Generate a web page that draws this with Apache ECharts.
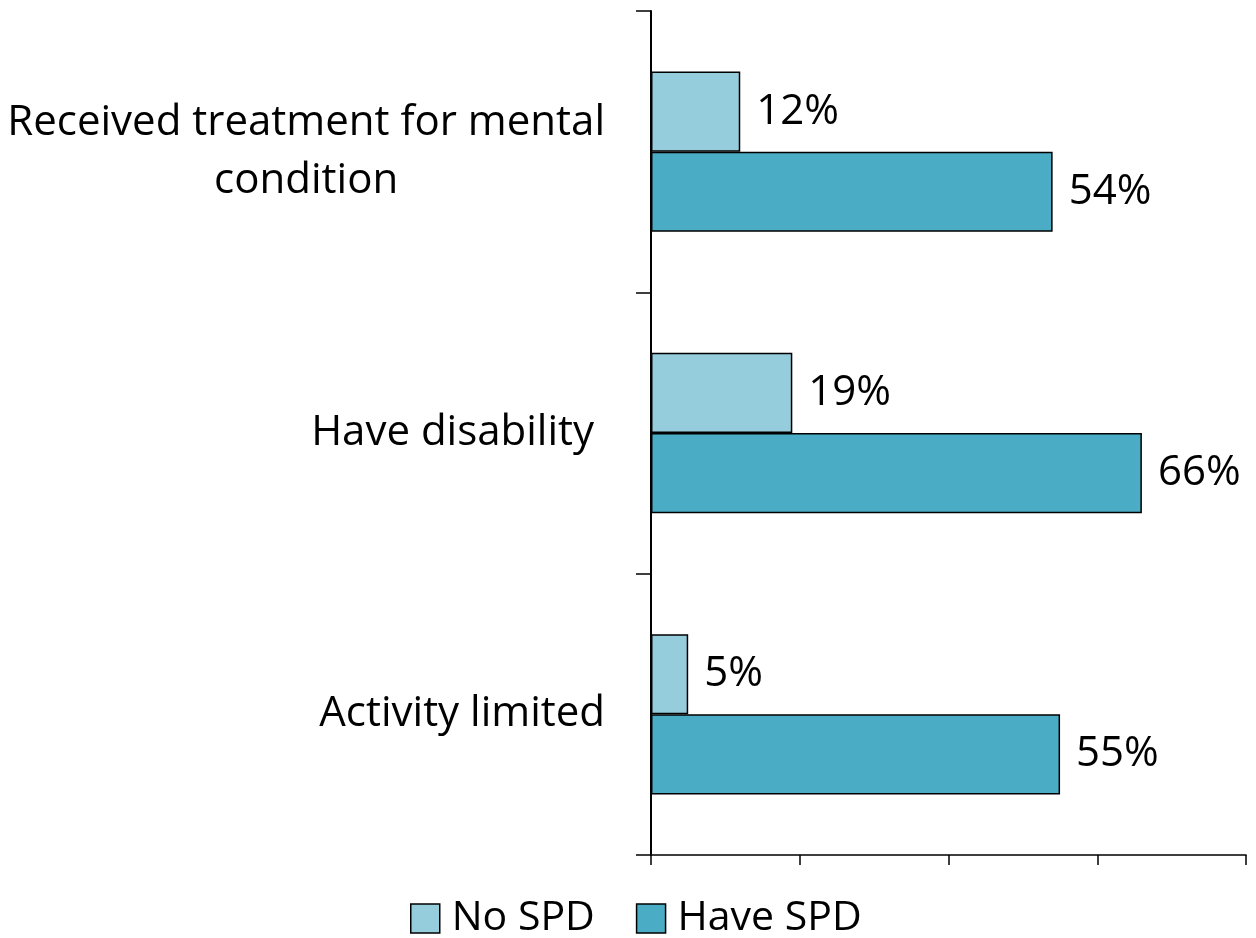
<!DOCTYPE html>
<html>
<head>
<meta charset="utf-8">
<script src="https://cdn.jsdelivr.net/npm/echarts@6/dist/echarts.min.js"></script>
<style>
  html, body { margin: 0; padding: 0; background: #fff; }
  #chart { width: 1256px; height: 938px; }
</style>
</head>
<body>
<div id="chart"></div>
<script>
// Categories listed bottom-to-top (category y-axis draws the first item at the bottom)
const categories = ['Activity limited', 'Have disability ', 'Received treatment for mental\ncondition'];
const noSpd = [5, 19, 12];
const haveSpd = [55, 66, 54];
const seriesNames = ['No SPD', 'Have SPD'];

const FONT = '"Open Sans", sans-serif';
const FS = 42;
const chart = echarts.init(document.getElementById('chart'), null, { renderer: 'canvas' });

function barSeries(name, values, color) {
  return {
    name: name,
    type: 'bar',
    data: values,
    barGap: '0%',
    barCategoryGap: '43%',
    itemStyle: { color: color, borderColor: '#000', borderWidth: 1.5 },
    label: {
      show: true,
      position: 'right',
      distance: 16,
      formatter: p => p.value + '%',
      color: '#000',
      fontFamily: FONT,
      fontSize: FS
    }
  };
}

chart.setOption({
  animation: false,
  grid: { left: 651, right: 10, top: 11, bottom: 83, containLabel: false },
  legend: {
    top: 898,
    left: 410,
    padding: 0,
    itemWidth: 29,
    itemHeight: 29,
    itemGap: 41,
    icon: 'rect',
    itemStyle: { borderColor: '#000', borderWidth: 1.5 },
    textStyle: { fontFamily: FONT, fontSize: 41, color: '#000', padding: [0, 0, 0, 7] },
    data: seriesNames
  },
  xAxis: {
    type: 'value',
    min: 0,
    max: 80,
    interval: 20,
    axisLine: { show: true, lineStyle: { color: '#000', width: 1.5 } },
    axisTick: { show: true, length: 10, lineStyle: { color: '#000', width: 1.5 } },
    axisLabel: { show: false },
    splitLine: { show: false }
  },
  yAxis: {
    type: 'category',
    data: categories,
    axisLine: { show: true, lineStyle: { color: '#000', width: 2 } },
    axisTick: { show: true, length: 15, lineStyle: { color: '#000', width: 1.5 } },
    axisLabel: {
      margin: 46,
      color: '#000',
      fontFamily: FONT,
      fontSize: FS,
      lineHeight: 58,
      formatter: v => v.split('\n').map(s => '{c|' + s + '}').join('\n'),
      rich: { c: { align: 'center', fontFamily: FONT, fontSize: FS, lineHeight: 58, color: '#000' } }
    }
  },
  series: [
    barSeries(seriesNames[0], noSpd, '#96CDDD'),
    barSeries(seriesNames[1], haveSpd, '#4BACC6')
  ]
});
</script>
</body>
</html>
